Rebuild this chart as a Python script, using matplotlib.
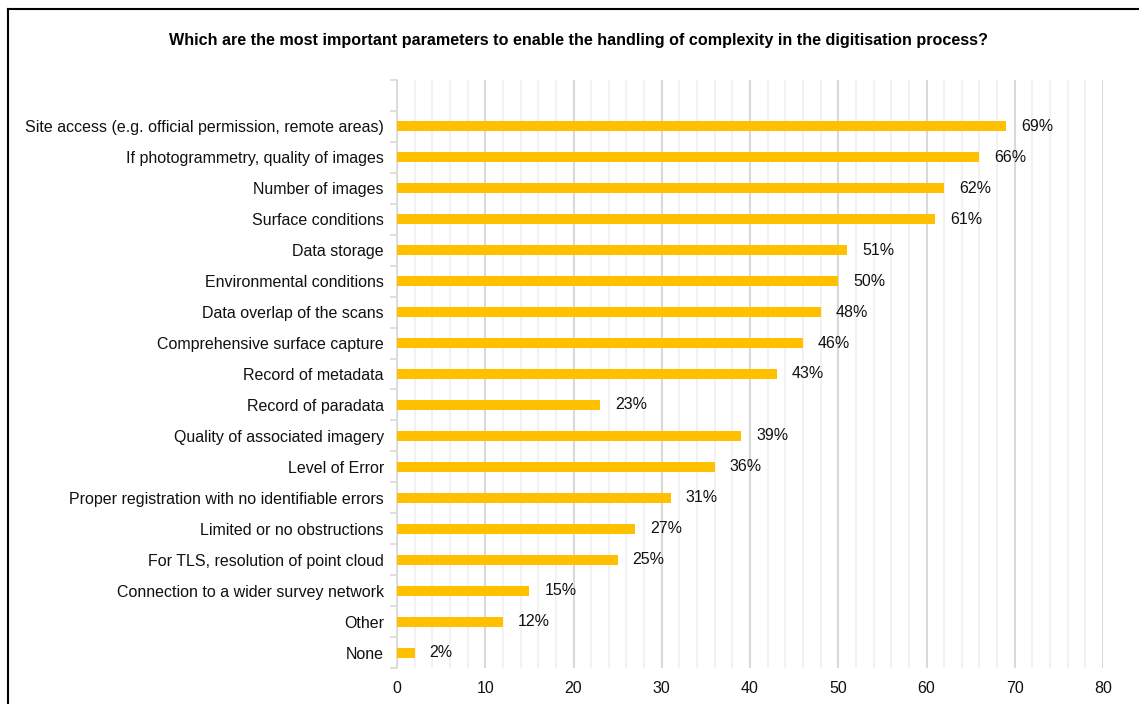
import matplotlib.pyplot as plt
from matplotlib.lines import Line2D
import numpy as np

plt.rcParams['font.family'] = ['Liberation Sans', 'DejaVu Sans']

title = "Which are the most important parameters to enable the handling of complexity in the digitisation process?"
labels = [
    "Site access (e.g. official permission, remote areas)",
    "If photogrammetry, quality of images",
    "Number of images",
    "Surface conditions",
    "Data storage",
    "Environmental conditions",
    "Data overlap of the scans",
    "Comprehensive surface capture",
    "Record of metadata",
    "Record of paradata",
    "Quality of associated imagery",
    "Level of Error",
    "Proper registration with no identifiable errors",
    "Limited or no obstructions",
    "For TLS, resolution of point cloud",
    "Connection to a wider survey network",
    "Other",
    "None",
]
values = [69, 66, 62, 61, 51, 50, 48, 46, 43, 23, 39, 36, 31, 27, 25, 15, 12, 2]

fig = plt.figure(figsize=(11.39, 7.04), dpi=100)
ax = fig.add_axes([0.3486, 0.0511, 0.6198, 0.8353])

y = np.arange(len(labels))
ax.barh(y, values, height=0.32, color='#FFC000', zorder=3)
for yi, v in zip(y, values):
    ax.text(v + 1.7, yi, f"{v}%", va='center', ha='left', fontsize=11.5, color='#111111')

ax.set_xlim(0, 80)
ax.set_ylim(len(labels) - 0.5, -1.5)
ax.set_xticks(np.arange(0, 81, 10))
ax.set_xticks(np.arange(0, 81, 2), minor=True)
ax.set_yticks(y)
ax.set_yticklabels(labels, fontsize=11.5, color='#111111')
ax.set_yticks(np.arange(-1.5, len(labels), 1.0), minor=True)

ax.grid(axis='x', which='major', color='#d9d9d9', linewidth=1.5, zorder=0)
ax.grid(axis='x', which='minor', color='#f2f2f2', linewidth=1.5, zorder=0)
ax.set_axisbelow(True)

ax.tick_params(axis='y', which='major', length=0, pad=9.5)
ax.tick_params(axis='y', which='minor', length=5, color='#d9d9d9', width=1.2)
ax.tick_params(axis='x', which='both', length=0, labelsize=11.5, labelcolor='#111111', pad=9)

for s in ['top', 'right', 'bottom']:
    ax.spines[s].set_visible(False)
ax.spines['left'].set_color('#d9d9d9')
ax.spines['left'].set_linewidth(1.2)

fig.text(0.508, 0.943, title, ha='center', va='center', fontsize=11.6, fontweight='bold')

# frame lines along top and left edge
fig.add_artist(Line2D([8 / 1139, 1], [1 - 9 / 704, 1 - 9 / 704], color='black', linewidth=1.5,
                      transform=fig.transFigure))
fig.add_artist(Line2D([8 / 1139, 8 / 1139], [0, 1 - 9 / 704], color='black', linewidth=1.5,
                      transform=fig.transFigure))

fig.savefig('out.png', dpi=100)
